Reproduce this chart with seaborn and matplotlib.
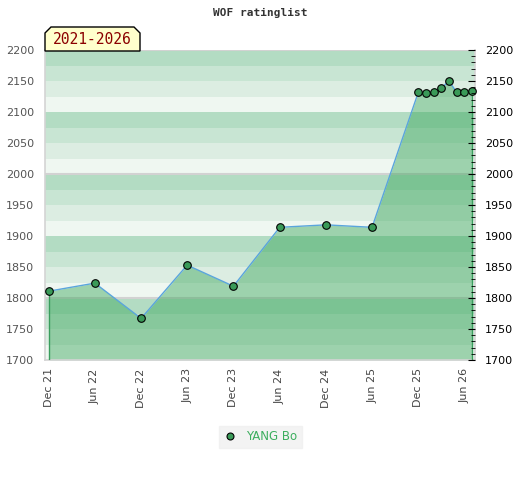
import pandas as pd
import matplotlib
matplotlib.use('Agg')
import matplotlib.pyplot as plt
from matplotlib.patches import Polygon
import seaborn as sns

sns.set_style("white")
plt.rcParams['font.family'] = ['DejaVu Sans']

# rating history
dates = ["2021-12", "2022-06", "2022-12", "2023-06", "2023-12", "2024-06",
         "2024-12", "2025-06", "2025-12", "2026-01", "2026-02", "2026-03",
         "2026-04", "2026-05", "2026-06", "2026-07"]
ratings = [1811, 1824, 1767, 1853, 1819, 1914, 1918, 1914,
           2132, 2130, 2132, 2138, 2150, 2132, 2132, 2134]
tick_dates = ["2021-12", "2022-06", "2022-12", "2023-06", "2023-12",
              "2024-06", "2024-12", "2025-06", "2025-12", "2026-06"]
tick_labels = ["Dec 21", "Jun 22", "Dec 22", "Jun 23", "Dec 23",
               "Jun 24", "Dec 24", "Jun 25", "Dec 25", "Jun 26"]
player = "YANG Bo"
period = "2021-2026"

df = pd.DataFrame({"date": pd.to_datetime(dates), "rating": ratings})

fig = plt.figure(figsize=(5.2, 4.8), dpi=100)
ax = fig.add_axes([45/520, 1-360/480, 430/520, 310/480])

# striped background, 4 shades per 100 points
band_cols = ['#b3dcc3', '#c8e5d3', '#dcede2', '#eff7f1']
for top in range(2200, 1700, -100):
    for i, c in enumerate(band_cols):
        ax.axhspan(top - 25*(i+1), top - 25*i, color=c, lw=0, zorder=0)
for yy in [2200, 2000, 1800]:
    ax.axhline(yy, color='#d2d2d2', lw=1.5, zorder=1)

ax.fill_between(df['date'], df['rating'], 1700, color='#32a254', alpha=0.43, lw=0, zorder=2)
ax.vlines([df['date'].iloc[0], df['date'].iloc[-1]], 1700,
          [df['rating'].iloc[0], df['rating'].iloc[-1]], color='#3a9d5d', lw=1, zorder=3)
sns.lineplot(data=df, x='date', y='rating', ax=ax, color='#5aa5dc', lw=1, zorder=4)
sns.scatterplot(data=df, x='date', y='rating', ax=ax, s=30, color='#3a9a58',
                edgecolor='black', linewidth=0.8, zorder=5, clip_on=False)

ax.set_xlim(pd.Timestamp("2021-11-16"), pd.Timestamp("2026-07-13"))
ax.set_ylim(1700, 2200)
ax.set_xticks(pd.to_datetime(tick_dates))
ax.set_xticklabels(tick_labels, rotation=90, fontsize=8, color='#444444')
ax.set_yticks(range(1700, 2201, 50))
ax.tick_params(axis='y', labelsize=8, labelcolor='#555555', length=0, pad=8)
ax.tick_params(axis='x', length=0, pad=6)
ax.set_xlabel("")
ax.set_ylabel("")
for s in ax.spines.values():
    s.set_color('#d4d4d4')
    s.set_linewidth(1.2)
ax.spines['top'].set_visible(False)

ax2 = ax.twinx()
ax2.set_ylim(1700, 2200)
ax2.set_yticks(range(1700, 2201, 50))
ax2.set_yticks(range(1700, 2201, 10), minor=True)
ax2.tick_params(axis='y', which='major', direction='in', length=5, color='black',
                labelsize=8, labelcolor='black', pad=7)
ax2.tick_params(axis='y', which='minor', direction='in', length=3, color='black')
for s in ax2.spines.values():
    s.set_visible(False)

fig.text(260/520, 1-13/480, "WOF ratinglist", ha='center', va='center',
         fontsize=8, fontweight='bold', family='DejaVu Sans Mono', color='#333333')

# period label box with cut corners
pts = [(45, 51), (45, 33), (51, 27), (134, 27), (140, 33), (140, 51)]
poly = Polygon([(x/520, 1-y/480) for x, y in pts], closed=True,
               transform=fig.transFigure, facecolor='#ffffcc', edgecolor='black', lw=1)
fig.patches.append(poly)
fig.text(92.5/520, 1-40/480, period, ha='center', va='center', fontsize=10.5,
         family='DejaVu Sans Mono', color='#8b0000')

h = plt.Line2D([], [], marker='o', ls='', markersize=5, markerfacecolor='#3a9a58',
               markeredgecolor='black', markeredgewidth=0.8)
leg = fig.legend([h], [player], loc='center', bbox_to_anchor=(260.5/520, 1-437/480),
                 frameon=True, fontsize=8.5, handletextpad=0.9, borderpad=0.4,
                 handlelength=1.0, borderaxespad=0, fancybox=False)
leg.get_frame().set_facecolor('#f0f0f0')
leg.get_frame().set_edgecolor('#f0f0f0')
for t in leg.get_texts():
    t.set_color('#3cae5e')

fig.savefig("out.png", dpi=100)
